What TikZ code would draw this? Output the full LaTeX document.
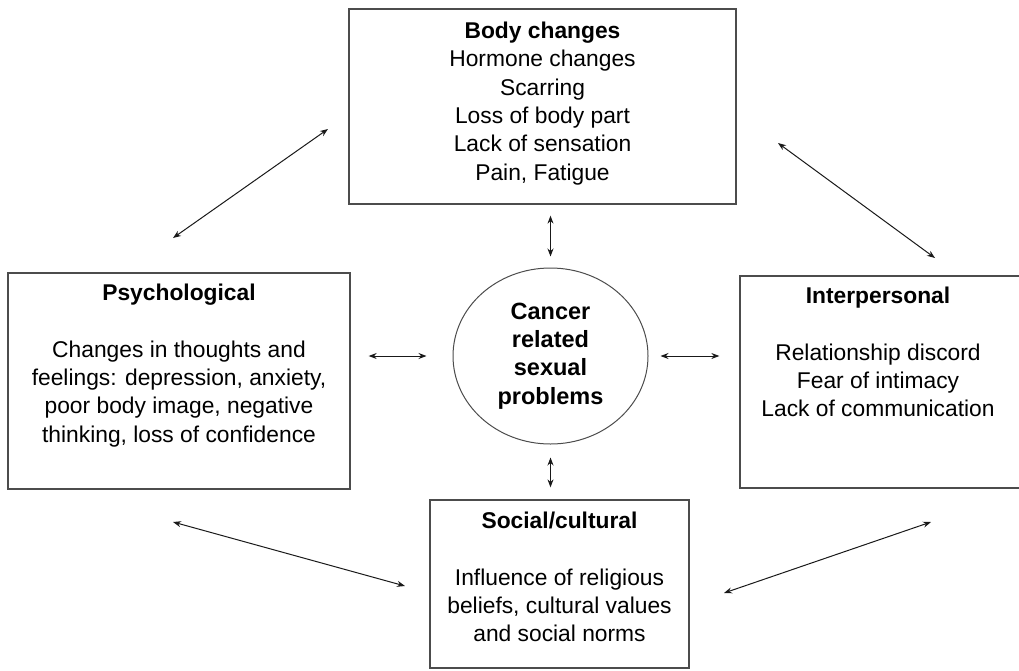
\documentclass[tikz,border=0pt]{standalone}
\usepackage{fontspec}
\setmainfont{Liberation Sans}
\usetikzlibrary{arrows.meta,shapes.geometric,calc}
\begin{document}
\begin{tikzpicture}[x=1pt,y=-1pt,
  box/.style={draw=black!70,line width=1.3pt,rectangle,inner sep=0pt},
  txt/.style={align=center,inner sep=0pt,anchor=north,font=\fontsize{22.8}{28.4}\selectfont},
  link/.style={draw=black!90,line width=1pt,{Stealth[length=8pt,width=6pt]}-{Stealth[length=8pt,width=6pt]}}]
\useasboundingbox (0,0) rectangle (1019,670);
% boxes
\node[box,minimum width=387pt,minimum height=195pt] (body) at (542.5,106.5) {};
\node[box,minimum width=342pt,minimum height=216pt] (psych) at (179,381) {};
\node[box,minimum width=290pt,minimum height=212pt] (inter) at (885,382) {};
\node[box,minimum width=259pt,minimum height=168pt] (social) at (559.5,584) {};
\node[draw=black!70,line width=1pt,ellipse,minimum width=195pt,minimum height=176pt,inner sep=0pt,
      align=center,font=\fontsize{23.5}{28.4}\selectfont\bfseries] (circ) at (550.5,356)
      {Cancer\\related\\sexual\\problems};
% texts
\node[txt] (bodyt) at (542.5,21.5) {\textbf{Body changes}\\Hormone changes\\Scarring\\Loss of body part\\Lack of sensation\\Pain, Fatigue};
\node[txt] (psycht) at (179,283.5) {\textbf{Psychological}\\[28.4pt]Changes in thoughts and\\feelings: depression, anxiety,\\poor body image, negative\\thinking, loss of confidence};
\node[txt] (intert) at (878,286.5) {\textbf{Interpersonal}\\[28.4pt]Relationship discord\\Fear of intimacy\\Lack of communication};
\node[txt] (socialt) at (559.5,511.5) {\textbf{Social/cultural}\\[28.4pt]Influence of religious\\beliefs, cultural values\\and social norms};
% free arrow ends
\coordinate (tlA) at (173,238);
\coordinate (tlB) at (328,129);
\coordinate (trA) at (778,143);
\coordinate (trB) at (935,258);
\coordinate (blA) at (173,522);
\coordinate (blB) at (405,586);
\coordinate (brA) at (724,593);
\coordinate (brB) at (931,522);
% connectors
\draw[link,shorten <=11pt,shorten >=11pt] (body.south -| circ.north) -- (circ.north);
\draw[link,shorten <=18pt,shorten >=26pt] (psych.east |- circ.west) -- (circ.west);
\draw[link,shorten <=12pt,shorten >=20pt] (circ.east) -- (circ.east -| inter.west);
\draw[link,shorten <=13pt,shorten >=12pt] (circ.south) -- (circ.south |- social.north);
\draw[link] (tlA) -- (tlB);
\draw[link] (trA) -- (trB);
\draw[link] (blA) -- (blB);
\draw[link] (brA) -- (brB);
\end{tikzpicture}
\end{document}
